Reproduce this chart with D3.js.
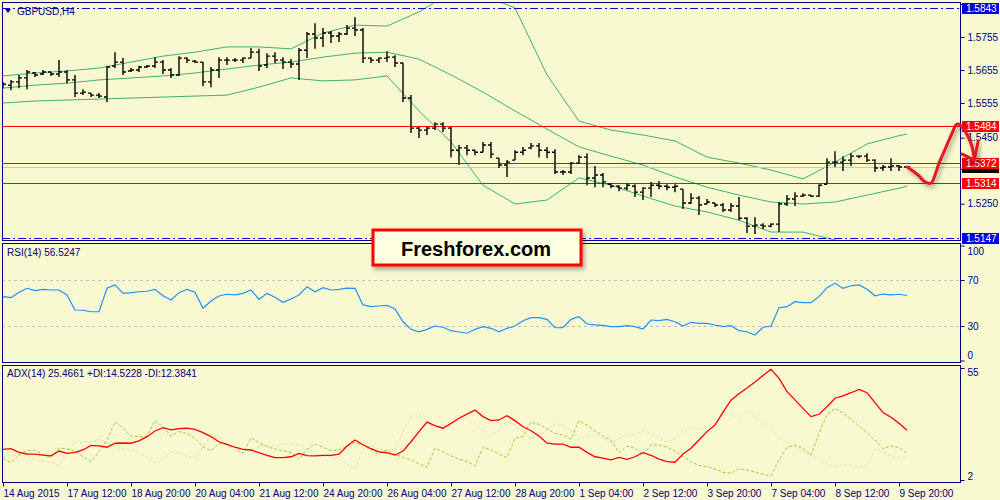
<!DOCTYPE html>
<html>
<head>
<meta charset="utf-8">
<script src="https://cdn.jsdelivr.net/npm/d3@7"></script>
<style>
  body { margin: 0; background: #f8f8d1; }
  svg { display: block; font-family: "Liberation Sans", Arial, sans-serif; }
</style>
</head>
<body>
<div id="chart"></div>
<script>

// ---- Data ----

var symbolTitle = "GBPUSD,H4";
var rsiTitle = "RSI(14) 56.5247";
var adxTitle = "ADX(14) 25.4661 +DI:14.5228 -DI:12.3841";
var brandText = "Freshforex.com";

// one label every 8 bars (H4)
var tickLabels = ["14 Aug 2015", "17 Aug 12:00", "18 Aug 20:00", "20 Aug 04:00", "21 Aug 12:00",
    "24 Aug 20:00", "26 Aug 04:00", "27 Aug 12:00", "28 Aug 20:00", "1 Sep 04:00",
    "2 Sep 12:00", "3 Sep 20:00", "7 Sep 04:00", "8 Sep 12:00", "9 Sep 20:00"];

// tick marks on the price scale; only the uncovered ones get a label
var priceTicks = [1.5855, 1.5755, 1.5655, 1.5555, 1.5450, 1.5355, 1.5250];
var priceTickLabels = ["", "1.5755", "1.5655", "1.5555", "1.5450", "", "1.5250"];
var rsiTicks = [100, 70, 30, 0];
var rsiLevels = [70, 30];
var adxTicks = [55, 2];

var opens = [1.5606,1.5609,1.5619,1.5631,1.5646,1.5643,1.5649,1.5643,1.5649,1.5625,
    1.5585,1.5585,1.5579,1.5573,1.5667,1.5679,1.5652,1.5655,1.5664,1.5667,
    1.5679,1.5655,1.5640,1.5691,1.5682,1.5679,1.5619,1.5655,1.5685,1.5685,
    1.5685,1.5691,1.5709,1.5670,1.5697,1.5685,1.5679,1.5673,1.5715,1.5764,
    1.5752,1.5767,1.5758,1.5764,1.5782,1.5776,1.5691,1.5685,1.5691,1.5694,
    1.5676,1.5570,1.5479,1.5473,1.5479,1.5491,1.5479,1.5412,1.5419,1.5412,
    1.5406,1.5428,1.5388,1.5367,1.5382,1.5406,1.5419,1.5425,1.5412,1.5406,
    1.5346,1.5346,1.5373,1.5391,1.5328,1.5337,1.5309,1.5303,1.5297,1.5303,
    1.5285,1.5297,1.5306,1.5303,1.5300,1.5294,1.5252,1.5267,1.5249,1.5252,
    1.5246,1.5231,1.5243,1.5206,1.5182,1.5185,1.5182,1.5188,1.5249,1.5264,
    1.5273,1.5276,1.5273,1.5309,1.5376,1.5376,1.5382,1.5394,1.5394,1.5382,
    1.5358,1.5361,1.5364,1.5361];
var highs = [1.5619,1.5625,1.5640,1.5655,1.5649,1.5655,1.5649,1.5685,1.5655,1.5640,
    1.5597,1.5585,1.5585,1.5667,1.5709,1.5691,1.5661,1.5667,1.5670,1.5694,
    1.5685,1.5661,1.5697,1.5694,1.5685,1.5679,1.5664,1.5694,1.5694,1.5691,
    1.5694,1.5722,1.5719,1.5706,1.5709,1.5694,1.5688,1.5722,1.5770,1.5797,
    1.5782,1.5773,1.5770,1.5791,1.5815,1.5782,1.5694,1.5694,1.5712,1.5700,
    1.5676,1.5579,1.5482,1.5482,1.5497,1.5497,1.5482,1.5428,1.5428,1.5412,
    1.5437,1.5437,1.5388,1.5382,1.5412,1.5422,1.5434,1.5434,1.5422,1.5415,
    1.5352,1.5376,1.5397,1.5403,1.5364,1.5343,1.5312,1.5306,1.5312,1.5309,
    1.5300,1.5316,1.5319,1.5309,1.5309,1.5294,1.5282,1.5273,1.5264,1.5252,
    1.5252,1.5252,1.5270,1.5209,1.5209,1.5191,1.5191,1.5255,1.5276,1.5285,
    1.5282,1.5276,1.5309,1.5388,1.5409,1.5394,1.5403,1.5397,1.5403,1.5385,
    1.5367,1.5388,1.5367,1.5364];
var lows = [1.5600,1.5594,1.5600,1.5597,1.5634,1.5640,1.5637,1.5634,1.5615,1.5573,
    1.5579,1.5573,1.5570,1.5558,1.5661,1.5640,1.5649,1.5649,1.5661,1.5661,
    1.5643,1.5631,1.5637,1.5676,1.5676,1.5606,1.5603,1.5631,1.5670,1.5679,
    1.5676,1.5691,1.5652,1.5661,1.5676,1.5658,1.5661,1.5625,1.5691,1.5719,
    1.5725,1.5737,1.5740,1.5761,1.5758,1.5676,1.5676,1.5676,1.5679,1.5664,
    1.5558,1.5464,1.5449,1.5458,1.5473,1.5467,1.5391,1.5367,1.5397,1.5397,
    1.5406,1.5388,1.5358,1.5331,1.5382,1.5397,1.5415,1.5391,1.5388,1.5340,
    1.5337,1.5340,1.5370,1.5306,1.5300,1.5300,1.5297,1.5288,1.5291,1.5270,
    1.5261,1.5270,1.5294,1.5291,1.5285,1.5234,1.5249,1.5216,1.5249,1.5240,
    1.5225,1.5225,1.5200,1.5161,1.5158,1.5173,1.5179,1.5164,1.5243,1.5243,
    1.5270,1.5270,1.5270,1.5309,1.5361,1.5349,1.5364,1.5388,1.5376,1.5346,
    1.5349,1.5349,1.5349,1.5358];
var closes = [1.5612,1.5619,1.5631,1.5649,1.5640,1.5649,1.5643,1.5649,1.5625,1.5585,
    1.5588,1.5579,1.5576,1.5664,1.5679,1.5649,1.5655,1.5664,1.5667,1.5679,
    1.5655,1.5640,1.5691,1.5685,1.5679,1.5619,1.5655,1.5685,1.5685,1.5685,
    1.5691,1.5709,1.5667,1.5697,1.5685,1.5679,1.5673,1.5715,1.5764,1.5752,
    1.5767,1.5758,1.5764,1.5782,1.5776,1.5691,1.5685,1.5691,1.5694,1.5676,
    1.5570,1.5479,1.5473,1.5479,1.5491,1.5479,1.5412,1.5419,1.5412,1.5406,
    1.5428,1.5400,1.5367,1.5376,1.5406,1.5412,1.5425,1.5412,1.5406,1.5346,
    1.5346,1.5373,1.5391,1.5328,1.5337,1.5316,1.5303,1.5297,1.5306,1.5285,
    1.5297,1.5306,1.5303,1.5300,1.5303,1.5252,1.5267,1.5246,1.5255,1.5246,
    1.5231,1.5243,1.5206,1.5182,1.5185,1.5182,1.5188,1.5249,1.5264,1.5273,
    1.5276,1.5273,1.5306,1.5376,1.5376,1.5382,1.5394,1.5394,1.5382,1.5358,
    1.5361,1.5364,1.5361,1.5361];

// Bollinger bands, read every 4th bar
var bandBars = [0,4,8,12,16,20,24,28,32,36,40,44,48,52,56,60,64,68,72,76,80,84,88,92,96,100,104,108,112,113];
var bandUpper = [1.5637,1.5646,1.5652,1.5661,1.5679,1.5697,1.5709,1.5725,1.5725,1.5719,
    1.5767,1.5791,1.5788,1.5831,1.5891,1.5882,1.5843,1.5640,1.5500,1.5473,
    1.5458,1.5440,1.5391,1.5373,1.5352,1.5325,1.5376,1.5431,1.5456,1.5461];
var bandMiddle = [1.5600,1.5609,1.5615,1.5625,1.5631,1.5637,1.5646,1.5658,1.5670,1.5679,
    1.5694,1.5706,1.5709,1.5688,1.5640,1.5588,1.5531,1.5476,1.5422,1.5394,
    1.5367,1.5331,1.5300,1.5276,1.5255,1.5249,1.5255,1.5276,1.5297,1.5303];
var bandLower = [1.5555,1.5561,1.5564,1.5567,1.5570,1.5573,1.5576,1.5579,1.5603,1.5631,
    1.5622,1.5625,1.5637,1.5531,1.5437,1.5306,1.5249,1.5261,1.5328,1.5306,
    1.5273,1.5243,1.5225,1.5200,1.5164,1.5164,1.5140,1.5122,1.5143,1.5146];

var rsiValues = [55.5,54.6,59.3,62.8,60.7,61.9,61.3,61.3,57.0,43.9,
    43.7,42.4,42.4,62.8,65.7,58.4,59.0,59.8,60.2,61.9,
    56.3,52.6,59.0,61.9,59.3,45.4,51.7,56.1,57.6,57.0,
    58.4,61.3,53.2,58.4,55.0,50.6,53.5,57.0,64.2,59.8,
    63.3,61.3,61.9,63.0,62.8,48.3,46.8,47.4,48.0,44.8,
    33.7,27.1,25.0,27.1,30.0,28.9,25.9,24.8,23.7,27.1,
    29.4,28.0,25.0,28.0,30.0,34.6,37.2,37.2,35.8,28.5,
    28.5,35.8,38.1,31.7,30.9,30.6,29.4,29.4,30.3,29.4,
    27.4,35.2,34.6,35.8,33.7,30.0,33.2,32.3,32.3,30.9,
    29.4,30.3,25.9,25.0,22.2,28.9,30.0,45.9,46.8,51.1,
    50.3,50.3,55.5,63.3,67.1,62.8,65.0,65.7,61.9,56.3,
    57.8,57.0,57.6,56.5];

var adxValues = [16.5,16.8,15.1,14.3,14.2,13.8,13.4,15.7,14.6,15.1,
    16.2,18.4,18.1,17.5,19.4,19.5,19.4,20.5,22.5,25.2,
    26.8,25.7,26.3,26.5,26.0,24.4,22.5,20.1,18.9,17.5,
    16.5,16.2,14.9,13.7,12.6,12.6,13.0,14.6,13.5,13.4,
    13.7,13.7,14.2,18.1,20.9,18.7,16.8,15.3,14.9,13.8,
    15.7,20.1,24.9,29.4,27.7,26.5,28.8,31.2,33.2,35.1,
    32.0,30.1,30.4,32.4,30.1,27.2,25.3,22.8,19.4,19.0,
    19.0,17.5,17.5,15.1,13.0,12.4,11.5,12.7,11.8,13.0,
    14.9,13.7,11.9,10.7,10.4,14.3,17.0,20.9,24.9,28.0,
    34.1,39.8,42.8,45.5,48.4,51.5,54.4,50.1,43.8,39.9,
    35.9,32.0,33.1,36.7,40.7,41.8,43.3,44.9,43.3,38.6,
    33.9,31.7,28.8,25.5];
var plusDI = [12.1,10.2,13.8,15.9,16.1,14.0,12.6,17.1,16.8,15.6,
    13.0,10.7,15.4,20.9,29.6,26.6,22.8,22.5,22.8,30.1,
    27.1,22.8,24.9,24.1,21.7,17.6,15.9,19.4,18.6,17.5,
    14.6,22.0,19.7,17.8,16.7,15.9,14.9,11.8,16.5,19.0,
    17.5,15.9,16.2,18.1,19.8,18.4,16.2,14.6,16.2,14.2,
    12.6,11.5,9.6,8.0,17.0,15.4,13.4,11.9,10.7,8.6,
    17.5,16.2,14.2,12.7,21.9,22.5,29.4,28.4,26.1,24.1,
    23.3,21.3,30.1,27.9,25.2,22.8,20.9,14.9,18.1,17.0,
    14.0,18.6,18.6,17.5,15.7,13.0,10.7,8.8,8.3,7.2,
    5.6,5.2,7.3,6.7,5.8,4.7,4.0,11.5,17.5,18.4,
    17.0,13.8,24.1,32.8,35.9,33.6,30.7,27.6,24.4,20.9,
    16.7,18.1,17.3,14.5];
var minusDI = [13.0,13.7,13.8,13.7,11.8,11.0,10.2,9.1,15.1,19.7,
    19.8,20.0,21.3,19.4,17.5,16.5,16.2,14.8,13.0,10.2,
    11.8,15.1,14.9,13.0,12.7,17.8,22.8,22.2,18.6,15.9,
    14.3,15.9,17.8,18.2,18.2,18.9,18.9,18.6,16.5,14.6,
    13.2,12.9,11.5,9.4,7.1,16.5,18.4,16.5,16.2,16.2,
    24.9,32.0,32.8,29.6,26.5,27.2,30.4,32.6,30.7,28.5,
    25.7,22.8,25.3,29.6,28.0,24.9,21.3,23.3,25.7,28.8,
    28.0,25.7,21.3,22.8,23.3,21.7,19.7,21.7,23.2,23.8,
    25.0,24.1,22.0,19.7,21.3,25.3,26.5,26.0,27.2,28.8,
    33.2,33.6,30.7,35.1,32.3,28.8,25.7,22.5,19.4,17.5,
    15.4,13.8,12.3,9.6,8.0,9.1,9.0,8.0,8.6,16.5,
    15.4,13.4,12.7,12.4];

// chart objects
var redLevels = [1.5484, 1.5372, 1.5314];
var greenLevels = [1.5484, 1.5314];
var greenFromBar = [49.25, 63.1];
var extremeLevels = [1.5843, 1.5147];

// hand-drawn forecast (bar index, price)
var forecastBars = [113, 113.75, 114.5, 115.25, 116, 116.5, 117, 117.6, 118.25, 118.75, 119.1, 119.5, 120, 120.6, 121.1, 121.4];
var forecastPrices = [1.5361, 1.5349, 1.5334, 1.5316, 1.5312, 1.5337, 1.5373, 1.5406, 1.5443, 1.5470, 1.5488, 1.5491, 1.5479, 1.5455, 1.5425, 1.5388];
var arrowBars = [119.9, 121.4, 121.9];
var arrowPrices = [1.5400, 1.5382, 1.5440];


// ---- Layout ----

var W = 1000, H = 500;
var left = 2, right = 960;
var mainTop = 2, mainBottom = 240;
var rsiTop = 243, rsiBottom = 362;
var adxTop = 365, adxBottom = 482;
var navy = "#000080";
var bg = "#f8f8d1";
var lastBar = opens.length - 1;

var svg = d3.select("#chart").append("svg")
    .attr("width", W)
    .attr("height", H);

svg.append("rect").attr("width", W).attr("height", H).attr("fill", bg);

var defs = svg.append("defs");
defs.append("clipPath").attr("id", "clipMain").append("rect")
    .attr("x", left).attr("y", mainTop)
    .attr("width", right - left).attr("height", mainBottom - mainTop);
defs.append("clipPath").attr("id", "clipRsi").append("rect")
    .attr("x", left).attr("y", rsiTop)
    .attr("width", right - left).attr("height", rsiBottom - rsiTop);
defs.append("clipPath").attr("id", "clipAdx").append("rect")
    .attr("x", left).attr("y", adxTop)
    .attr("width", right - left).attr("height", adxBottom - adxTop);

var shadow = defs.append("filter").attr("id", "shadow")
    .attr("x", "-20%").attr("y", "-60%").attr("width", "140%").attr("height", "320%");
shadow.append("feDropShadow")
    .attr("dx", 2).attr("dy", 3).attr("stdDeviation", 2)
    .attr("flood-color", "#000").attr("flood-opacity", 0.35);


// Scales
var x = d3.scaleLinear().domain([0, lastBar]).range([3, 3 + 8 * lastBar]);
var yPrice = d3.scaleLinear().domain([1.5140, 1.5861]).range([mainBottom, mainTop]);
var yRsi = d3.scaleLinear().domain([0, 100]).range([360.5, 245.5]);
var yAdx = d3.scaleLinear().domain([2, 55]).range([480, 368]);


// ---- Main price window ----

var main = svg.append("g").attr("clip-path", "url(#clipMain)");

var bandLine = function(values) {
    return d3.line()
        .x(function(d, i) { return x(bandBars[i]); })
        .y(function(d) { return yPrice(d); })(values);
};
[bandUpper, bandMiddle, bandLower].forEach(function(band) {
    main.append("path")
        .attr("d", bandLine(band))
        .attr("fill", "none")
        .attr("stroke", "#3cb371")
        .attr("stroke-width", 1);
});

// horizontal levels
main.selectAll(".red-level")
    .data(redLevels)
    .enter().append("line")
    .attr("class", "red-level")
    .attr("x1", left).attr("x2", right)
    .attr("y1", function(d) { return Math.round(yPrice(d)) + 0.5; })
    .attr("y2", function(d) { return Math.round(yPrice(d)) + 0.5; })
    .attr("stroke", "#ff0000");

main.append("line")
    .attr("x1", left).attr("x2", right)
    .attr("y1", Math.round(yPrice(closes[lastBar])) + 0.5)
    .attr("y2", Math.round(yPrice(closes[lastBar])) + 0.5)
    .attr("stroke", "#c8c8c8");

main.selectAll(".extreme")
    .data(extremeLevels)
    .enter().append("line")
    .attr("class", "extreme")
    .attr("x1", left).attr("x2", right)
    .attr("y1", function(d) { return Math.round(yPrice(d)) + 0.5; })
    .attr("y2", function(d) { return Math.round(yPrice(d)) + 0.5; })
    .attr("stroke", "#0000e0")
    .attr("stroke-dasharray", "8,3,2,3");

// OHLC bars
main.selectAll(".bar")
    .data(opens)
    .enter().append("path")
    .attr("class", "bar")
    .attr("d", function(d, i) {
        var cx = x(i);
        return "M" + cx + "," + yPrice(highs[i]) + "V" + yPrice(lows[i]) +
            "M" + (cx - 3) + "," + yPrice(opens[i]) + "H" + cx +
            "M" + cx + "," + yPrice(closes[i]) + "H" + (cx + 3);
    })
    .attr("fill", "none")
    .attr("stroke", "#000")
    .attr("stroke-width", 1.4);

// drawn support / resistance
svg.selectAll(".green-level")
    .data(greenLevels)
    .enter().append("line")
    .attr("class", "green-level")
    .attr("x1", function(d, i) { return x(greenFromBar[i]); })
    .attr("x2", right)
    .attr("y1", function(d) { return yPrice(d); })
    .attr("y2", function(d) { return yPrice(d); })
    .attr("stroke", "#1edc1e")
    .attr("stroke-width", 3)
    .attr("filter", "url(#shadow)");

// title
svg.append("path")
    .attr("d", "M5,9H11L8,13Z")
    .attr("fill", navy);
svg.append("text")
    .text(symbolTitle)
    .attr("x", 17).attr("y", 15)
    .attr("font-size", 10)
    .attr("fill", navy);


// ---- RSI window ----

var rsiG = svg.append("g").attr("clip-path", "url(#clipRsi)");

rsiG.selectAll(".rsi-level")
    .data(rsiLevels)
    .enter().append("line")
    .attr("class", "rsi-level")
    .attr("x1", left).attr("x2", right)
    .attr("y1", function(d) { return Math.round(yRsi(d)) + 0.5; })
    .attr("y2", function(d) { return Math.round(yRsi(d)) + 0.5; })
    .attr("stroke", "#c0c0c0")
    .attr("stroke-dasharray", "3,3");

rsiG.append("path")
    .attr("d", d3.line()
        .x(function(d, i) { return x(i); })
        .y(function(d) { return yRsi(d); })(rsiValues))
    .attr("fill", "none")
    .attr("stroke", "#1e90ff")
    .attr("stroke-width", 1.2);

svg.append("text")
    .text(rsiTitle)
    .attr("x", 7).attr("y", 256)
    .attr("font-size", 10)
    .attr("fill", navy);


// ---- ADX window ----

var adxG = svg.append("g").attr("clip-path", "url(#clipAdx)");

var adxLine = d3.line()
    .x(function(d, i) { return x(i); })
    .y(function(d) { return yAdx(d); });

adxG.append("path")
    .attr("d", adxLine(minusDI))
    .attr("fill", "none")
    .attr("stroke", "#f2d7b4")
    .attr("stroke-width", 1)
    .attr("stroke-dasharray", "3,2");
adxG.append("path")
    .attr("d", adxLine(plusDI))
    .attr("fill", "none")
    .attr("stroke", "#9acd32")
    .attr("stroke-width", 1)
    .attr("stroke-dasharray", "3,2");
adxG.append("path")
    .attr("d", adxLine(adxValues))
    .attr("fill", "none")
    .attr("stroke", "#ff0000")
    .attr("stroke-width", 1.3);

svg.append("text")
    .text(adxTitle)
    .attr("x", 7).attr("y", 377)
    .attr("font-size", 10)
    .attr("fill", navy);


// ---- Frames and axes ----

[[mainTop, mainBottom], [rsiTop, rsiBottom], [adxTop, adxBottom]].forEach(function(p) {
    svg.append("rect")
        .attr("x", left + 0.5).attr("y", p[0] + 0.5)
        .attr("width", right - left).attr("height", p[1] - p[0])
        .attr("fill", "none")
        .attr("stroke", navy);
});

function styleAxis(g) {
    g.select(".domain").remove();
    g.selectAll("line").attr("stroke", navy);
    g.selectAll("text").attr("fill", navy).attr("font-size", 10)
        .attr("font-family", "Liberation Sans, Arial, sans-serif");
}

var priceAxis = d3.axisRight(yPrice)
    .tickValues(priceTicks)
    .tickFormat(function(d, i) { return priceTickLabels[i]; })
    .tickSize(4);
svg.append("g")
    .attr("transform", "translate(" + (right + 0.5) + ",0)")
    .call(priceAxis)
    .call(styleAxis);

var rsiAxis = d3.axisRight(yRsi)
    .tickValues(rsiTicks)
    .tickSize(4);
svg.append("g")
    .attr("transform", "translate(" + (right + 0.5) + ",0)")
    .call(rsiAxis)
    .call(styleAxis)
    .selectAll("text")
    .attr("dy", function(d) { return d === 100 ? "0.9em" : (d === 0 ? "-0.2em" : "0.32em"); });

var adxAxis = d3.axisRight(yAdx)
    .tickValues(adxTicks)
    .tickSize(4);
svg.append("g")
    .attr("transform", "translate(" + (right + 0.5) + ",0)")
    .call(adxAxis)
    .call(styleAxis)
    .selectAll("text")
    .attr("dy", function(d) { return d === 55 ? "0.7em" : "-0.05em"; });

var timeAxis = d3.axisBottom(x)
    .tickValues(tickLabels.map(function(d, i) { return i * 8; }))
    .tickFormat(function(d, i) { return tickLabels[i]; })
    .tickSize(4);
svg.append("g")
    .attr("transform", "translate(0," + (adxBottom + 0.5) + ")")
    .call(timeAxis)
    .call(styleAxis)
    .selectAll("text")
    .attr("text-anchor", "start");

// price tags on the right scale
function priceTag(price, fill, withText) {
    var yy = Math.round(yPrice(price));
    svg.append("rect")
        .attr("x", right + 2).attr("y", yy - 5)
        .attr("width", 37).attr("height", 11)
        .attr("fill", fill);
    if (!withText) return;
    svg.append("text")
        .text(d3.format(".4f")(price))
        .attr("x", right + 6).attr("y", yy)
        .attr("dy", "0.35em")
        .attr("font-size", 10)
        .attr("fill", "#fff");
}
// bid tag sits almost fully under the 1.5372 tag
priceTag(closes[lastBar], "#000", false);
priceTag(extremeLevels[0], "#0000e0", true);
priceTag(extremeLevels[1], "#0000e0", true);
redLevels.forEach(function(d) { priceTag(d, "#ff0000", true); });


// forecast scribble, drawn over the scale tags
var forecastLine = d3.line()
    .x(function(d, i) { return x(forecastBars[i]); })
    .y(function(d) { return yPrice(d); })
    .curve(d3.curveCatmullRom);
svg.append("path")
    .attr("d", forecastLine(forecastPrices))
    .attr("fill", "none")
    .attr("stroke", "#e8141e")
    .attr("stroke-width", 3)
    .attr("stroke-linecap", "round")
    .attr("stroke-linejoin", "round")
    .attr("filter", "url(#shadow)");
svg.append("path")
    .attr("d", d3.line()
        .x(function(d, i) { return x(arrowBars[i]); })
        .y(function(d) { return yPrice(d); })(arrowPrices))
    .attr("fill", "none")
    .attr("stroke", "#e8141e")
    .attr("stroke-width", 3)
    .attr("stroke-linecap", "round")
    .attr("stroke-linejoin", "round")
    .attr("filter", "url(#shadow)");


// ---- Brand box ----

svg.append("rect")
    .attr("x", 373).attr("y", 230)
    .attr("width", 208).attr("height", 35)
    .attr("fill", "#ffffe2")
    .attr("stroke", "#ff0000")
    .attr("stroke-width", 3)
    .attr("filter", "url(#shadow)");
svg.append("text")
    .text(brandText)
    .attr("x", 476).attr("y", 256)
    .attr("text-anchor", "middle")
    .attr("font-size", 20)
    .attr("font-weight", "bold")
    .attr("fill", "#000");

</script>
</body>
</html>
